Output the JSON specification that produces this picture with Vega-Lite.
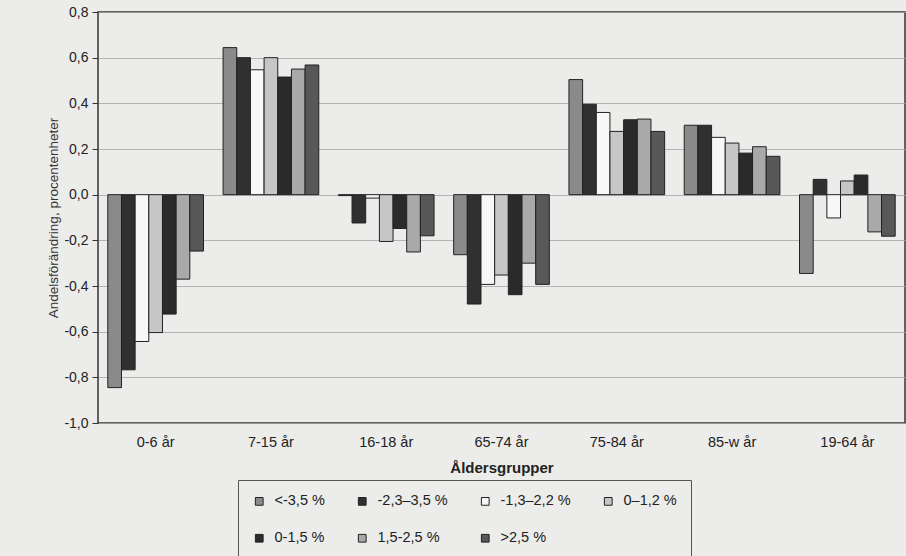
{
  "$schema": "https://vega.github.io/schema/vega-lite/v6.json",
  "width": 807,
  "height": 411,
  "autosize": {"type": "none"},
  "padding": {"left": 98, "top": 12, "right": 1, "bottom": 133},
  "background": "#ececea",
  "data": {
    "values": [
      {"group": "0-6 år", "series": "<-3,5 %", "value": -0.845},
      {"group": "0-6 år", "series": "-2,3–3,5 %", "value": -0.767},
      {"group": "0-6 år", "series": "-1,3–2,2 %", "value": -0.643},
      {"group": "0-6 år", "series": "0–1,2 %", "value": -0.604},
      {"group": "0-6 år", "series": "0-1,5 %", "value": -0.523},
      {"group": "0-6 år", "series": "1,5-2,5 %", "value": -0.37},
      {"group": "0-6 år", "series": ">2,5 %", "value": -0.247},
      {"group": "7-15 år", "series": "<-3,5 %", "value": 0.644},
      {"group": "7-15 år", "series": "-2,3–3,5 %", "value": 0.6},
      {"group": "7-15 år", "series": "-1,3–2,2 %", "value": 0.547},
      {"group": "7-15 år", "series": "0–1,2 %", "value": 0.6},
      {"group": "7-15 år", "series": "0-1,5 %", "value": 0.515},
      {"group": "7-15 år", "series": "1,5-2,5 %", "value": 0.55},
      {"group": "7-15 år", "series": ">2,5 %", "value": 0.568},
      {"group": "16-18 år", "series": "<-3,5 %", "value": -0.004},
      {"group": "16-18 år", "series": "-2,3–3,5 %", "value": -0.124},
      {"group": "16-18 år", "series": "-1,3–2,2 %", "value": -0.015},
      {"group": "16-18 år", "series": "0–1,2 %", "value": -0.205},
      {"group": "16-18 år", "series": "0-1,5 %", "value": -0.148},
      {"group": "16-18 år", "series": "1,5-2,5 %", "value": -0.251},
      {"group": "16-18 år", "series": ">2,5 %", "value": -0.18},
      {"group": "65-74 år", "series": "<-3,5 %", "value": -0.263},
      {"group": "65-74 år", "series": "-2,3–3,5 %", "value": -0.479},
      {"group": "65-74 år", "series": "-1,3–2,2 %", "value": -0.393},
      {"group": "65-74 år", "series": "0–1,2 %", "value": -0.352},
      {"group": "65-74 år", "series": "0-1,5 %", "value": -0.438},
      {"group": "65-74 år", "series": "1,5-2,5 %", "value": -0.3},
      {"group": "65-74 år", "series": ">2,5 %", "value": -0.393},
      {"group": "75-84 år", "series": "<-3,5 %", "value": 0.504},
      {"group": "75-84 år", "series": "-2,3–3,5 %", "value": 0.396},
      {"group": "75-84 år", "series": "-1,3–2,2 %", "value": 0.36},
      {"group": "75-84 år", "series": "0–1,2 %", "value": 0.277},
      {"group": "75-84 år", "series": "0-1,5 %", "value": 0.328},
      {"group": "75-84 år", "series": "1,5-2,5 %", "value": 0.331},
      {"group": "75-84 år", "series": ">2,5 %", "value": 0.277},
      {"group": "85-w år", "series": "<-3,5 %", "value": 0.304},
      {"group": "85-w år", "series": "-2,3–3,5 %", "value": 0.304},
      {"group": "85-w år", "series": "-1,3–2,2 %", "value": 0.251},
      {"group": "85-w år", "series": "0–1,2 %", "value": 0.226},
      {"group": "85-w år", "series": "0-1,5 %", "value": 0.182},
      {"group": "85-w år", "series": "1,5-2,5 %", "value": 0.21},
      {"group": "85-w år", "series": ">2,5 %", "value": 0.168},
      {"group": "19-64 år", "series": "<-3,5 %", "value": -0.345},
      {"group": "19-64 år", "series": "-2,3–3,5 %", "value": 0.067},
      {"group": "19-64 år", "series": "-1,3–2,2 %", "value": -0.102},
      {"group": "19-64 år", "series": "0–1,2 %", "value": 0.06},
      {"group": "19-64 år", "series": "0-1,5 %", "value": 0.086},
      {"group": "19-64 år", "series": "1,5-2,5 %", "value": -0.163},
      {"group": "19-64 år", "series": ">2,5 %", "value": -0.182}
    ]
  },
  "mark": {"type": "bar", "stroke": "#222222", "strokeWidth": 1},
  "encoding": {
    "x": {
      "field": "group",
      "type": "nominal",
      "sort": ["0-6 år", "7-15 år", "16-18 år", "65-74 år", "75-84 år", "85-w år", "19-64 år"],
      "scale": {"paddingInner": 0.17, "paddingOuter": 0.085},
      "axis": {
        "title": "Åldersgrupper",
        "titleFont": "Liberation Sans",
        "titleFontSize": 15,
        "titleFontWeight": "bold",
        "titleColor": "#222222",
        "titlePadding": 12,
        "labelAngle": 0,
        "labelFont": "Liberation Sans",
        "labelFontSize": 14.5,
        "labelColor": "#222222",
        "labelPadding": 12,
        "ticks": false,
        "domain": false,
        "grid": false
      }
    },
    "xOffset": {
      "field": "series",
      "type": "nominal",
      "sort": ["<-3,5 %", "-2,3–3,5 %", "-1,3–2,2 %", "0–1,2 %", "0-1,5 %", "1,5-2,5 %", ">2,5 %"],
      "scale": {"paddingInner": 0, "paddingOuter": 0}
    },
    "y": {
      "field": "value",
      "type": "quantitative",
      "scale": {"domain": [-1.0, 0.8], "nice": false, "zero": false},
      "axis": {
        "title": "Andelsförändring, procentenheter",
        "titleFont": "Liberation Sans",
        "titleFontSize": 13.5,
        "titleFontWeight": "normal",
        "titleColor": "#333333",
        "titlePadding": 3,
        "values": [-1.0, -0.8, -0.6, -0.4, -0.2, 0, 0.2, 0.4, 0.6, 0.8],
        "labelExpr": "replace(replace(format(datum.value, '.1f'), '.', ','), '−', '-')",
        "labelFont": "Liberation Sans",
        "labelFontSize": 14,
        "labelColor": "#222222",
        "labelPadding": 4,
        "tickSize": 6,
        "tickColor": "#333333",
        "domain": false,
        "grid": true,
        "gridColor": "#a5a5a5",
        "gridWidth": 0.8
      }
    },
    "color": {
      "field": "series",
      "type": "nominal",
      "scale": {
        "domain": ["<-3,5 %", "-2,3–3,5 %", "-1,3–2,2 %", "0–1,2 %", "0-1,5 %", "1,5-2,5 %", ">2,5 %"],
        "range": ["#8a8a8a", "#303030", "#f7f7f7", "#c6c6c6", "#2a2a2a", "#a9a9a9", "#585858"]
      },
      "legend": {
        "title": null,
        "orient": "none",
        "legendX": 140,
        "legendY": 468,
        "direction": "horizontal",
        "columns": 4,
        "columnPadding": 30,
        "rowPadding": 22,
        "symbolType": "square",
        "symbolSize": 60,
        "symbolStrokeColor": "#222222",
        "symbolStrokeWidth": 1,
        "labelFont": "Liberation Sans",
        "labelFontSize": 14.5,
        "labelColor": "#222222",
        "labelOffset": 8,
        "padding": 14,
        "strokeColor": "#555555",
        "fillColor": null
      }
    }
  },
  "config": {
    "view": {"stroke": "#333333", "strokeWidth": 1.5}
  }
}
